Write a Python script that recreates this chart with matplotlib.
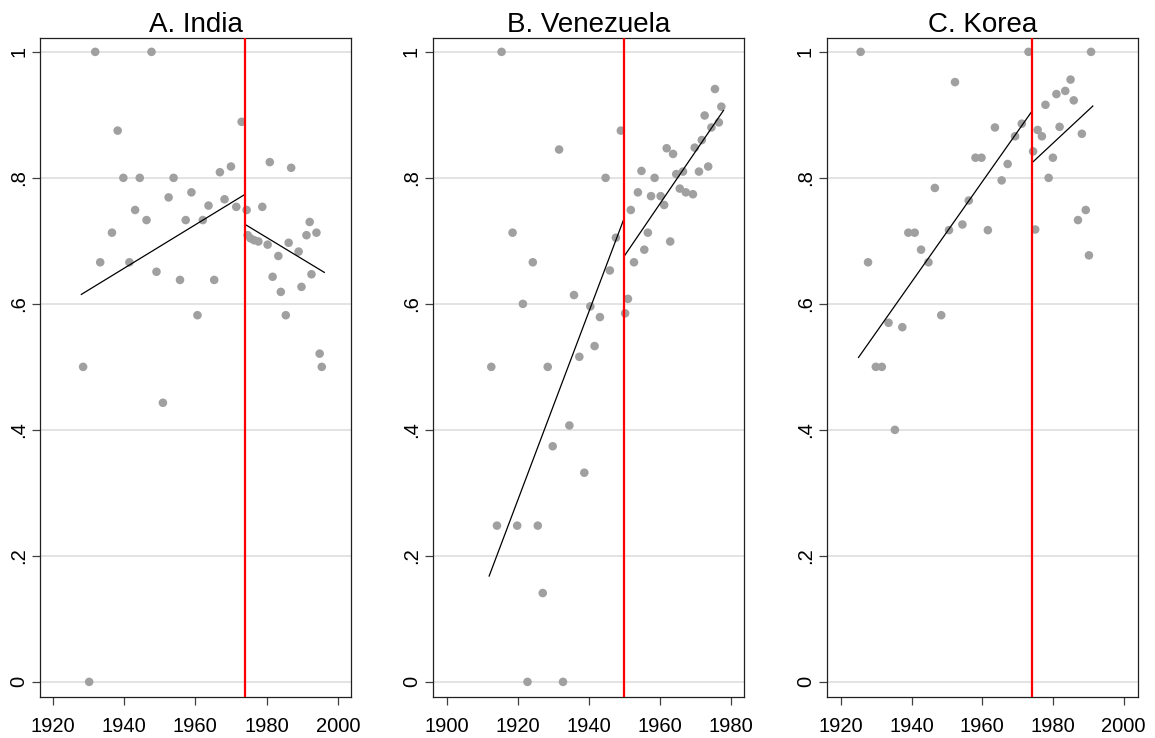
import numpy as np
import matplotlib
matplotlib.use('Agg')
import matplotlib.pyplot as plt

plt.rcParams['font.family'] = ['Liberation Sans', 'DejaVu Sans']

# ---- data ----
india_year = [1931.9, 1947.7, 1973.0, 1938.2, 1939.8, 1944.4, 1953.9, 1966.9, 1970.0,
              1980.9, 1986.9, 1952.5, 1958.9, 1943.1, 1963.7, 1968.2, 1971.5, 1974.4,
              1978.8, 1946.3, 1957.3, 1962.1, 1936.6, 1974.7, 1975.5, 1976.5, 1977.7,
              1980.3, 1986.2, 1992.1, 1994.0, 1991.2, 1989.0, 1983.3, 1933.3, 1941.5,
              1949.1, 1955.7, 1965.3, 1981.7, 1992.6, 1989.8, 1984.0, 1960.6, 1985.4,
              1928.5, 1994.9, 1995.5, 1950.9, 1930.2]
india_share = [1.0, 1.0, 0.889, 0.875, 0.8, 0.8, 0.8, 0.809, 0.818,
               0.825, 0.816, 0.769, 0.777, 0.749, 0.756, 0.766, 0.754, 0.749,
               0.754, 0.733, 0.733, 0.733, 0.713, 0.709, 0.704, 0.701, 0.699,
               0.694, 0.697, 0.730, 0.713, 0.709, 0.683, 0.676, 0.666, 0.666,
               0.651, 0.638, 0.638, 0.643, 0.647, 0.627, 0.619, 0.582, 0.582,
               0.5, 0.521, 0.5, 0.443, 0.0]
india_fit = [((1928.0, 1974.0), (0.615, 0.774)), ((1974.0, 1996.2), (0.726, 0.650))]
india_break = 1974

venez_year = [1915.5, 1949.1, 1931.7, 1975.6, 1977.4, 1972.7, 1976.7, 1974.6, 1971.9,
              1969.9, 1962.0, 1963.8, 1973.7, 1971.1, 1966.6, 1964.7, 1954.9, 1958.6,
              1944.8, 1965.7, 1967.4, 1969.4, 1953.9, 1957.6, 1960.3, 1961.3, 1951.9,
              1918.6, 1947.7, 1956.7, 1963.0, 1955.7, 1952.8, 1924.3, 1946.0, 1935.9,
              1921.5, 1940.5, 1943.2, 1951.1, 1950.3, 1941.7, 1937.4, 1912.6, 1928.5,
              1934.6, 1929.9, 1938.8, 1914.2, 1919.9, 1925.7, 1927.1, 1922.8, 1932.8]
venez_share = [1.0, 0.875, 0.845, 0.941, 0.913, 0.899, 0.888, 0.880, 0.860,
               0.848, 0.847, 0.838, 0.818, 0.810, 0.810, 0.806, 0.811, 0.8,
               0.8, 0.783, 0.777, 0.774, 0.777, 0.771, 0.771, 0.757, 0.749,
               0.713, 0.705, 0.713, 0.699, 0.686, 0.666, 0.666, 0.653, 0.614,
               0.6, 0.596, 0.579, 0.608, 0.585, 0.533, 0.516, 0.5, 0.5,
               0.407, 0.374, 0.332, 0.248, 0.248, 0.248, 0.141, 0.0, 0.0]
venez_fit = [((1912.0, 1949.9), (0.168, 0.734)), ((1950.2, 1978.0), (0.677, 0.907))]
venez_break = 1950

korea_year = [1925.6, 1973.1, 1990.8, 1952.3, 1985.0, 1983.5, 1981.0, 1985.9, 1977.9,
              1963.6, 1971.2, 1981.9, 1975.7, 1976.9, 1969.3, 1988.2, 1974.4, 1958.1,
              1959.8, 1980.0, 1967.2, 1965.5, 1978.8, 1946.6, 1956.2, 1954.4, 1950.6,
              1961.6, 1975.0, 1939.1, 1940.9, 1989.3, 1987.1, 1942.7, 1944.8, 1927.7,
              1990.2, 1933.5, 1937.4, 1948.4, 1929.9, 1931.6, 1935.3]
korea_share = [1.0, 1.0, 1.0, 0.952, 0.956, 0.938, 0.933, 0.923, 0.916,
               0.880, 0.886, 0.881, 0.876, 0.866, 0.866, 0.870, 0.842, 0.832,
               0.832, 0.832, 0.822, 0.796, 0.8, 0.784, 0.764, 0.726, 0.717,
               0.717, 0.718, 0.713, 0.713, 0.749, 0.733, 0.686, 0.666, 0.666,
               0.677, 0.570, 0.563, 0.582, 0.5, 0.5, 0.4]
korea_fit = [((1925.0, 1974.1), (0.515, 0.906)), ((1974.1, 1991.3), (0.824, 0.914))]
korea_break = 1974

panels = [
    ('A. India', india_year, india_share, india_fit, india_break,
     (1916.4, 2003.7), [1920, 1940, 1960, 1980, 2000]),
    ('B. Venezuela', venez_year, venez_share, venez_fit, venez_break,
     (1896.1, 1983.7), [1900, 1920, 1940, 1960, 1980]),
    ('C. Korea', korea_year, korea_share, korea_fit, korea_break,
     (1916.0, 2004.0), [1920, 1940, 1960, 1980, 2000]),
]

ytick_vals = [0, 0.2, 0.4, 0.6, 0.8, 1.0]
ytick_labels = ['0', '.2', '.4', '.6', '.8', '1']

W, H = 1155, 738
fig = plt.figure(figsize=(W / 100, H / 100), dpi=100)
lefts = [40, 432.7, 826.7]
ax_w = 311
top, bottom = 38, 697

for (title, yrs, vals, fits, brk, xlim, xticks), left in zip(panels, lefts):
    ax = fig.add_axes([left / W, 1 - bottom / H, ax_w / W, (bottom - top) / H])
    ax.set_xlim(*xlim)
    ax.set_ylim(-0.024, 1.022)
    for yv in ytick_vals:
        ax.axhline(yv, color='#e0e0e0', lw=1.3, zorder=0)
    ax.scatter(yrs, vals, s=38, color='#a0a0a0', edgecolors='none', zorder=2)
    for (x0, x1), (y0, y1) in fits:
        ax.plot([x0, x1], [y0, y1], color='black', lw=0.9, zorder=3)
    ax.axvline(brk, color='#ff0000', lw=1.6, zorder=4)

    ax.set_xticks(xticks)
    ax.set_xticklabels([str(t) for t in xticks])
    ax.set_yticks(ytick_vals)
    ax.set_yticklabels(ytick_labels, rotation=90, va='center')
    ax.tick_params(axis='both', labelsize=14.5, length=5.5, width=0.9,
                   color='#404040')
    ax.tick_params(axis='x', pad=9)
    ax.tick_params(axis='y', pad=3)
    for sp in ax.spines.values():
        sp.set_linewidth(0.9)
        sp.set_color('#202020')
    ax.set_title(title, fontsize=20, pad=1)

fig.savefig('out.png', dpi=100)
